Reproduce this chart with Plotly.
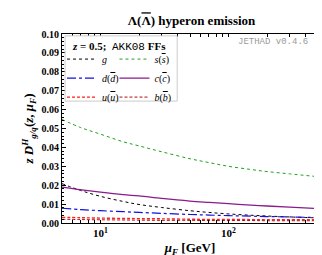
import plotly.graph_objects as go

mu = [5, 7, 10, 15, 20, 30, 50, 70, 100, 150, 200, 300, 500]
g_vals = [0.0208, 0.0172, 0.0141, 0.0114, 0.0098, 0.0082, 0.0065, 0.0056, 0.0048, 0.0041, 0.0037, 0.0032, 0.0027]
s_vals = [0.0548, 0.0505, 0.0470, 0.0430, 0.0408, 0.0377, 0.0340, 0.0320, 0.0300, 0.0283, 0.0272, 0.0260, 0.0245]
d_vals = [0.0078, 0.0071, 0.0065, 0.0060, 0.0056, 0.0051, 0.0045, 0.0042, 0.0039, 0.0036, 0.0034, 0.0032, 0.0029]
c_vals = [0.0190, 0.0176, 0.0163, 0.0150, 0.0143, 0.0130, 0.0116, 0.0109, 0.0102, 0.0095, 0.0090, 0.0084, 0.0076]
u_vals = [0.0030, 0.0028, 0.0026, 0.0024, 0.0023, 0.0022, 0.0020, 0.0019, 0.0019, 0.0018, 0.0018, 0.0017, 0.0017]
b_vals = [0.0020, 0.0018, 0.0017, 0.0016, 0.0015, 0.0014, 0.0014, 0.0013, 0.0013, 0.0013, 0.0012, 0.0012, 0.0012]

x_major = [10, 100]
x_major_labels = ["10<sup>1</sup>", "10<sup>2</sup>"]

serif = "Liberation Serif"
mono = "Liberation Mono"
OV = "<span style='text-decoration:overline'>{}</span>"

fig = go.Figure()

series = [
    ("<i>g</i>", g_vals, "black", "dot", 1.0, "legend"),
    ("<i>d</i>(<i>" + OV.format("d") + "</i>)", d_vals, "#1010e0", "dashdot", 1.2, "legend"),
    ("<i>u</i>(<i>" + OV.format("u") + "</i>)", u_vals, "#ff2020", "3px,2px", 1.4, "legend"),
    ("<i>s</i>(<i>" + OV.format("s") + "</i>)", s_vals, "#22a022", "dot", 1.0, "legend2"),
    ("<i>c</i>(<i>" + OV.format("c") + "</i>)", c_vals, "#8b1a8b", "solid", 1.3, "legend2"),
    ("<i>b</i>(<i>" + OV.format("b") + "</i>)", b_vals, "#b01010", "3px,2px", 1.0, "legend2"),
]
for name, vals, color, dash, w, lg in series:
    fig.add_trace(go.Scatter(x=mu, y=vals, mode="lines", name=name,
                             line=dict(color=color, dash=dash, width=w, shape="spline"),
                             legend=lg))

minor_x = [m * 10 ** e for e in range(0, 3) for m in range(1, 10) if 5 <= m * 10 ** e <= 500]
tickvals = minor_x
ticktext = [x_major_labels[x_major.index(v)] if v in x_major else "" for v in minor_x]

fig.update_layout(
    width=322, height=255,
    margin=dict(l=54, r=11, t=26, b=33),
    plot_bgcolor="white", paper_bgcolor="white",
    font=dict(family=serif, color="black", size=10),
    title=dict(text="<b>\u039b(" + OV.format("\u039b") + ") hyperon emission</b>", x=0.57, xanchor="center",
               y=0.95, yanchor="middle", font=dict(size=13, family=serif)),
    showlegend=True,
    legend=dict(x=0.0, y=0.944, xanchor="left", yanchor="top", bgcolor="rgba(0,0,0,0)",
                font=dict(size=10, family=serif), tracegroupgap=0, itemwidth=30),
    legend2=dict(x=0.205, y=0.944, xanchor="left", yanchor="top", bgcolor="rgba(0,0,0,0)",
                 font=dict(size=10, family=serif), tracegroupgap=0, itemwidth=30),
)

fig.update_xaxes(type="log", range=[0.699, 2.699], tickvals=tickvals, ticktext=ticktext,
                 ticks="inside", ticklen=3, tickcolor="black", showline=True, linecolor="black",
                 linewidth=1, mirror="allticks", showgrid=False, zeroline=False,
                 tickfont=dict(size=11, family=serif, weight="bold"),
                 title=dict(text="<b><i>\u03bc<sub>F</sub></i> [GeV]</b>", standoff=4,
                            font=dict(size=13, family=serif)))
fig.update_yaxes(range=[0, 0.1], dtick=0.01, tickformat=".2f", ticks="inside", ticklen=4,
                 tickcolor="black", showline=True, linecolor="black", linewidth=1,
                 mirror="allticks", showgrid=False, zeroline=False,
                 minor=dict(ticks="inside", ticklen=2, dtick=0.002, tickcolor="black"),
                 tickfont=dict(size=10, family=serif, weight="bold"),
                 title=dict(text="<b><i>z D</i><sup><i>H</i></sup><sub><i>g/q</i></sub>(<i>z</i>, <i>\u03bc<sub>F</sub></i>)</b>",
                            standoff=4, font=dict(size=13, family=serif)))

fig.add_shape(type="rect", xref="paper", yref="paper", x0=0.012, x1=0.45, y0=0.645, y1=0.99,
              line=dict(color="#cccccc", width=1), fillcolor="white", layer="above")
fig.add_annotation(xref="paper", yref="paper", x=0.03, y=0.935, xanchor="left", yanchor="middle",
                   showarrow=False,
                   text="<b><i>z</i> = 0.5;</b>  <span style='font-family:Liberation Mono'>AKK08</span> <b>FFs</b>",
                   font=dict(size=11, family=serif))
fig.add_annotation(xref="paper", yref="paper", x=0.97, y=0.96, xanchor="right", yanchor="middle",
                   showarrow=False, text="JETHAD v0.4.6",
                   font=dict(size=9, family=mono, color="#999999"))

fig.write_html("out.html")
